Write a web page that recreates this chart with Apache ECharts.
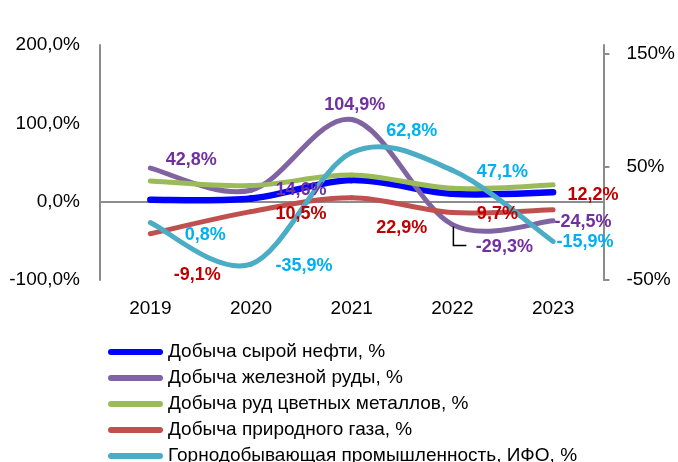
<!DOCTYPE html>
<html><head><meta charset="utf-8">
<script src="https://cdn.jsdelivr.net/npm/echarts@6/dist/echarts.min.js"></script>
<style>html,body{margin:0;padding:0;background:#fff}#c{width:678px;height:462px}</style>
</head><body><div id="c"></div>
<script>
// ---- data ----
const years = ['2019', '2020', '2021', '2022', '2023'];
const seriesNames = [
  'Добыча сырой нефти, %',
  'Добыча железной руды, %',
  'Добыча руд цветных металлов, %',
  'Добыча природного газа, %',
  'Горнодобывающая промышленность, ИФО, %'
];
const oil = [2.5, 4, 27.5, 10, 12];                // left axis, no labels
const ironOre = [42.8, 14.6, 104.9, -29.3, -24.5]; // left axis
const nonFerrous = [26.5, 20.5, 34, 17, 21.5];     // left axis, no labels
const gas = [-9.1, 10.5, 22.9, 9.7, 12.2];         // right axis
const mining = [0.8, -35.9, 62.8, 47.1, -15.9];    // right axis
const leftTicks = [-100, 0, 100, 200];
const rightTicks = [-50, 50, 150];

// ---- label placement (pixels, relative to the point) ----
const ironOffsets = [[41, -8], [50, 0], [3, -14], [52, 22], [30, 1]];
const gasOffsets = [[47, 41], [50, 2], [50, 30], [45, 1], [40, -15]];
const miningOffsets = [[55, 12], [53, 2], [60, -22], [50, 2], [32, 1]];
const leaderIndex = 3; // iron ore 2022 label has a leader line

const FONT = 'Liberation Sans';
const fmt1 = v => v.toFixed(1).replace('.', ',') + '%';

function labelled(values, offsets) {
  return values.map((v, i) => ({ value: v, label: { offset: offsets[i] } }));
}

// carrier series: legend entry + data labels (its own line is hidden)
function labelSeries(name, data, color, yIdx, labelColor) {
  return {
    name: name, type: 'line', data: data, yAxisIndex: yIdx,
    showSymbol: true, symbol: 'circle', symbolSize: 1,
    itemStyle: { color: color },
    lineStyle: { color: color, width: 0, opacity: 0 },
    z: 10,
    label: labelColor ? {
      show: true, position: 'inside', color: labelColor,
      fontFamily: FONT, fontWeight: 'bold', fontSize: 18,
      formatter: p => fmt1(p.value)
    } : { show: false },
    emphasis: { disabled: true }
  };
}

// smoothed curve (Catmull-Rom style bezier between the axis-mapped points)
function curveSeries(values, color, width, yIdx, z) {
  const n = values.length;
  return {
    type: 'custom', yAxisIndex: yIdx, z: z, silent: true,
    data: values.map((v, i) => [i, v]),
    encode: { x: 0, y: 1 },
    renderItem: function (params, api) {
      const i = params.dataIndex;
      if (i >= n - 1) return { type: 'group', children: [] };
      const P = k => { const c = Math.max(0, Math.min(n - 1, k)); return api.coord([c, values[c]]); };
      const p0 = P(i - 1), p1 = P(i), p2 = P(i + 1), p3 = P(i + 2);
      return {
        type: 'bezierCurve',
        shape: {
          x1: p1[0], y1: p1[1], x2: p2[0], y2: p2[1],
          cpx1: p1[0] + (p2[0] - p0[0]) / 6, cpy1: p1[1] + (p2[1] - p0[1]) / 6,
          cpx2: p2[0] - (p3[0] - p1[0]) / 6, cpy2: p2[1] - (p3[1] - p1[1]) / 6
        },
        style: { stroke: color, lineWidth: width, fill: null, lineCap: 'round' }
      };
    }
  };
}

// leader line from the iron-ore 2022 point to its label
const leaderSeries = {
  type: 'custom', yAxisIndex: 0, z: 11, silent: true,
  data: [[leaderIndex, ironOre[leaderIndex]]],
  encode: { x: 0, y: 1 },
  renderItem: function (params, api) {
    const p = api.coord([api.value(0), api.value(1)]);
    return {
      type: 'polyline',
      shape: { points: [[p[0] + 1, p[1] + 2], [p[0] + 1, p[1] + 21], [p[0] + 14, p[1] + 21]] },
      style: { stroke: '#000', lineWidth: 1.5, fill: null }
    };
  }
};

const series = [
  labelSeries(seriesNames[0], oil, '#0000FF', 0, null),
  labelSeries(seriesNames[1], labelled(ironOre, ironOffsets), '#8064A2', 0, '#7030A0'),
  labelSeries(seriesNames[2], nonFerrous, '#9BBB59', 0, null),
  labelSeries(seriesNames[3], labelled(gas, gasOffsets), '#C0504D', 1, '#C00000'),
  labelSeries(seriesNames[4], labelled(mining, miningOffsets), '#4BACC6', 1, '#00B0F0'),
  curveSeries(oil, '#0000FF', 6.5, 0, 3),
  curveSeries(ironOre, '#8064A2', 5, 0, 4),
  curveSeries(nonFerrous, '#9BBB59', 5, 0, 5),
  curveSeries(gas, '#C0504D', 5, 1, 6),
  curveSeries(mining, '#4BACC6', 5, 1, 7),
  leaderSeries
];
// zero line of the left axis
series[0].markLine = {
  silent: true, symbol: 'none', label: { show: false }, z: 1,
  lineStyle: { color: '#8C8C8C', width: 2, type: 'solid' },
  data: [{ yAxis: 0 }]
};

const chart = echarts.init(document.getElementById('c'));
chart.setOption({
  animation: false,
  backgroundColor: '#fff',
  grid: { left: 100, right: 70, top: 45, bottom: 182 },
  legend: {
    orient: 'vertical', left: 108, top: 342, height: 200, padding: 0,
    itemWidth: 55, itemHeight: 6, itemGap: 6,
    icon: 'path://M3,0 H52 A3,3 0 0 1 52,6 H3 A3,3 0 0 1 3,0 Z',
    textStyle: { fontFamily: FONT, fontSize: 19, color: '#000', lineHeight: 20 },
    data: seriesNames
  },
  xAxis: {
    type: 'category', data: years, boundaryGap: true,
    axisLine: { show: false, onZero: false }, axisTick: { show: false },
    axisLabel: { fontFamily: FONT, fontSize: 19, color: '#000', margin: 19 }
  },
  yAxis: [
    {
      type: 'value', min: -100, max: 200, interval: 100, position: 'left',
      axisLine: { show: true, lineStyle: { color: '#8C8C8C', width: 2 } },
      axisTick: { show: false }, splitLine: { show: false },
      axisLabel: { fontFamily: FONT, fontSize: 19, color: '#000', margin: 20,
        customValues: leftTicks, formatter: v => fmt1(v) }
    },
    {
      type: 'value', min: -50, max: 158, position: 'right',
      axisLine: { show: true, lineStyle: { color: '#8C8C8C', width: 2 } },
      axisTick: { show: true, length: 6, customValues: rightTicks, lineStyle: { color: '#8C8C8C', width: 2 } },
      splitLine: { show: false },
      axisLabel: { fontFamily: FONT, fontSize: 19, color: '#000', margin: 23,
        customValues: rightTicks, formatter: v => v + '%' }
    }
  ],
  series: series
});
</script></body></html>
